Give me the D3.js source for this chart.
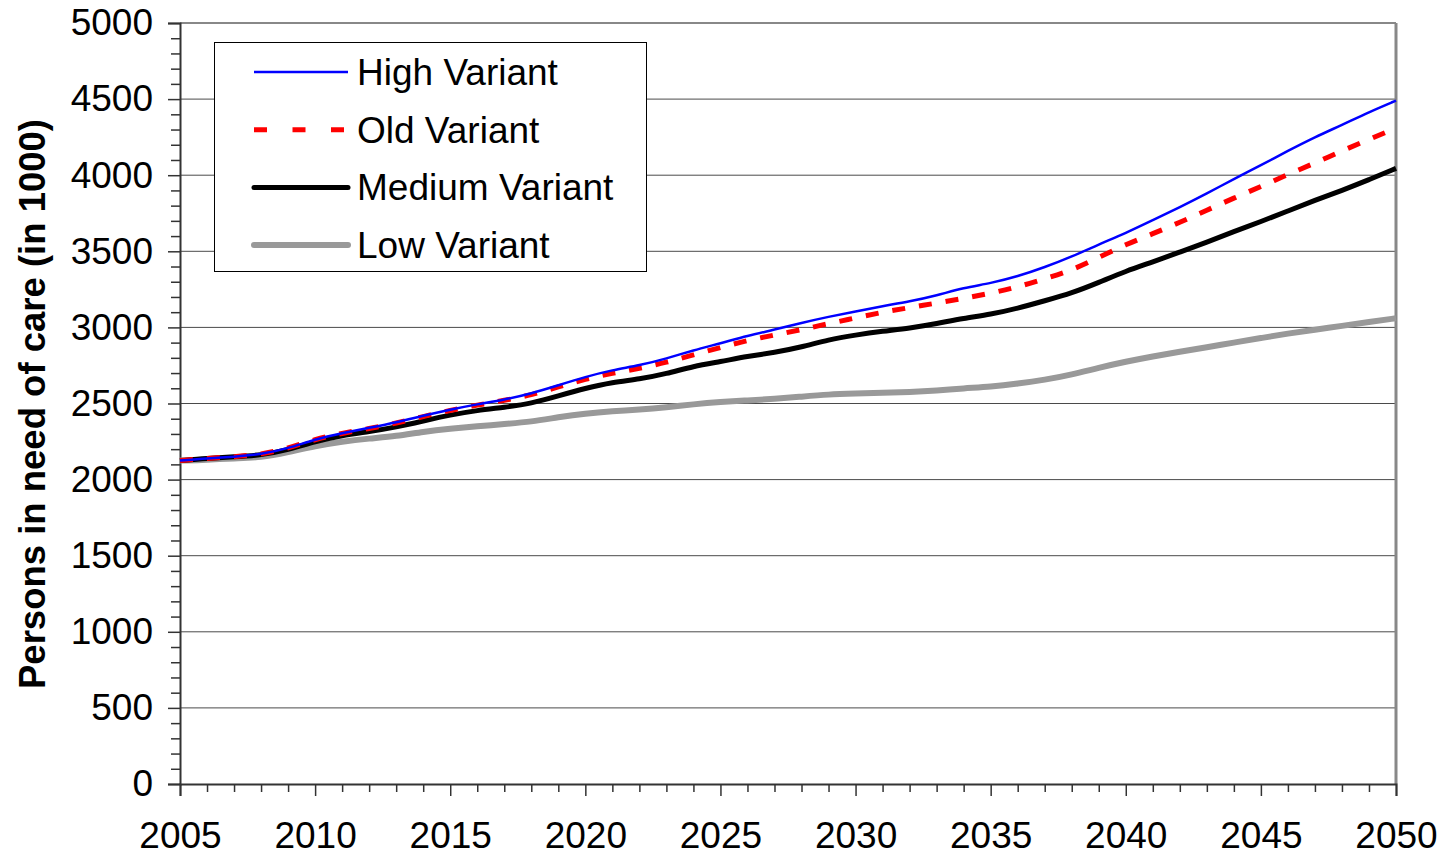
<!DOCTYPE html>
<html>
<head>
<meta charset="utf-8">
<script src="https://cdn.jsdelivr.net/npm/d3@7/dist/d3.min.js"></script>
<style>
  body { margin: 0; background: #fff; }
  svg { display: block; font-family: "Liberation Sans", Arial, sans-serif; }
</style>
</head>
<body>
<div id="chart"></div>
<script>
// Years 2005..2050
const years = d3.range(2005, 2051);

const highVariant = [
    2125, 2140, 2150, 2165, 2205, 2265, 2305, 2340, 2375, 2420,
    2460, 2495, 2525, 2565, 2620, 2675, 2720, 2750, 2795, 2850,
    2895, 2945, 2985, 3030, 3070, 3105, 3140, 3170, 3210, 3260,
    3290, 3335, 3395, 3465, 3545, 3620, 3705, 3790, 3880, 3975,
    4065, 4160, 4250, 4330, 4415, 4490
];
const oldVariant = [
    2125, 2140, 2150, 2165, 2205, 2265, 2305, 2335, 2370, 2415,
    2455, 2490, 2520, 2555, 2610, 2660, 2700, 2730, 2770, 2820,
    2868, 2915, 2950, 2985, 3025, 3062, 3100, 3130, 3160, 3190,
    3225, 3265, 3320, 3375, 3460, 3545, 3615, 3690, 3770, 3850,
    3925, 4005, 4080, 4160, 4235, 4310
];
const mediumVariant = [
    2125, 2140, 2150, 2160, 2195, 2250, 2290, 2315, 2345, 2385,
    2425, 2455, 2475, 2500, 2550, 2600, 2640, 2660, 2695, 2745,
    2775, 2810, 2835, 2870, 2920, 2950, 2975, 2995, 3025, 3060,
    3085, 3125, 3175, 3225, 3295, 3370, 3430, 3495, 3560, 3630,
    3695, 3765, 3835, 3900, 3970, 4045
];
const lowVariant = [
    2125, 2130, 2140, 2145, 2180, 2220, 2250, 2270, 2285, 2315,
    2335, 2350, 2365, 2380, 2410, 2435, 2450, 2460, 2475, 2495,
    2510, 2520, 2530, 2545, 2560, 2565, 2570, 2575, 2585, 2600,
    2610, 2630, 2655, 2690, 2735, 2775, 2810, 2840, 2870, 2900,
    2930, 2960, 2985, 3010, 3035, 3060
];

const yTicks = d3.range(0, 5001, 500);
const xTicks = d3.range(2005, 2051, 5);

const seriesNames = ["High Variant", "Old Variant", "Medium Variant", "Low Variant"];

const width = 1442;
const height = 855;
const margin = { top: 23, right: 46, bottom: 71, left: 180 };

const x = d3.scaleLinear()
    .domain([2005, 2050])
    .range([margin.left, width - margin.right]);
const y = d3.scaleLinear()
    .domain([0, 5000])
    .range([height - margin.bottom, margin.top]);

const svg = d3.select("#chart")
    .append("svg")
    .attr("width", width)
    .attr("height", height);

// Gridlines
svg.append("g")
    .selectAll("line")
    .data(yTicks.filter(d => d > 0 && d < 5000))
    .join("line")
    .attr("x1", x(2005))
    .attr("x2", x(2050))
    .attr("y1", d => y(d))
    .attr("y2", d => y(d))
    .attr("stroke", "#4a4a4a")
    .attr("stroke-width", 1);

// Plot frame (top & right)
svg.append("line")
    .attr("x1", x(2005)).attr("x2", x(2050))
    .attr("y1", y(5000)).attr("y2", y(5000))
    .attr("stroke", "#888").attr("stroke-width", 2);
svg.append("line")
    .attr("x1", x(2050)).attr("x2", x(2050))
    .attr("y1", y(5000)).attr("y2", y(0))
    .attr("stroke", "#888").attr("stroke-width", 3);

// Y axis: major ticks + minor ticks every 100
const yAxis = svg.append("g")
    .attr("transform", `translate(${margin.left},0)`)
    .call(d3.axisLeft(y).tickValues(yTicks).tickSize(12).tickPadding(15).tickFormat(d3.format("d")));
yAxis.select(".domain").attr("stroke", "#333").attr("stroke-width", 2);
yAxis.selectAll(".tick line").attr("stroke", "#333").attr("stroke-width", 1.5);
yAxis.selectAll(".tick text")
    .attr("font-size", 37)
    .attr("fill", "#000")
    .attr("font-family", "Liberation Sans, Arial, sans-serif");

svg.append("g")
    .attr("transform", `translate(${margin.left},0)`)
    .call(d3.axisLeft(y).tickValues(d3.range(0, 5001, 100).filter(d => d % 500 !== 0)).tickSize(9).tickFormat(""))
    .call(g => g.select(".domain").remove())
    .call(g => g.selectAll(".tick line").attr("stroke", "#333").attr("stroke-width", 1.5));

// X axis: major ticks + yearly minor ticks
const xAxis = svg.append("g")
    .attr("transform", `translate(0,${y(0)})`)
    .call(d3.axisBottom(x).tickValues(xTicks).tickSize(12).tickPadding(26).tickFormat(d3.format("d")));
xAxis.select(".domain").attr("stroke", "#333").attr("stroke-width", 2);
xAxis.selectAll(".tick line").attr("stroke", "#333").attr("stroke-width", 1.5);
xAxis.selectAll(".tick text")
    .attr("font-size", 37)
    .attr("fill", "#000")
    .attr("font-family", "Liberation Sans, Arial, sans-serif");

svg.append("g")
    .attr("transform", `translate(0,${y(0)})`)
    .call(d3.axisBottom(x).tickValues(years.filter(d => d % 5 !== 0)).tickSize(8).tickFormat(""))
    .call(g => g.select(".domain").remove())
    .call(g => g.selectAll(".tick line").attr("stroke", "#333").attr("stroke-width", 1.5));

// Y axis title
svg.append("text")
    .attr("transform", `translate(45,404) rotate(-90)`)
    .attr("text-anchor", "middle")
    .attr("font-size", 36.5)
    .attr("font-weight", "bold")
    .text("Persons in need of care (in 1000)");

// Series lines
const series = [
    { name: seriesNames[3], values: lowVariant, color: "#999999", width: 6, dash: null },
    { name: seriesNames[2], values: mediumVariant, color: "#000000", width: 5, dash: null },
    { name: seriesNames[1], values: oldVariant, color: "#ff0000", width: 5, dash: "13,14" },
    { name: seriesNames[0], values: highVariant, color: "#0000ff", width: 2.5, dash: null }
];

const line = d3.line()
    .x((d, i) => x(years[i]))
    .y(d => y(d))
    .curve(d3.curveBasis);

svg.append("g")
    .selectAll("path")
    .data(series)
    .join("path")
    .attr("d", d => line(d.values))
    .attr("fill", "none")
    .attr("stroke", d => d.color)
    .attr("stroke-width", d => d.width)
    .attr("stroke-dasharray", d => d.dash)
    .attr("stroke-linejoin", "round");

// Legend
const legend = svg.append("g");
legend.append("rect")
    .attr("x", 214.5).attr("y", 42.5)
    .attr("width", 432).attr("height", 229)
    .attr("fill", "#fff")
    .attr("stroke", "#000")
    .attr("stroke-width", 1);

const legendItems = [
    { name: seriesNames[0], color: "#0000ff", width: 2.5, dash: null, cap: "butt" },
    { name: seriesNames[1], color: "#ff0000", width: 5, dash: "13,25.5", cap: "butt" },
    { name: seriesNames[2], color: "#000000", width: 5, dash: null, cap: "round" },
    { name: seriesNames[3], color: "#999999", width: 6, dash: null, cap: "round" }
];

const item = legend.selectAll(".item")
    .data(legendItems)
    .join("g")
    .attr("class", "item")
    .attr("transform", (d, i) => `translate(0,${72 + i * 57.7})`);

item.append("line")
    .attr("x1", 254)
    .attr("x2", 348)
    .attr("stroke", d => d.color)
    .attr("stroke-width", d => d.width)
    .attr("stroke-dasharray", d => d.dash)
    .attr("stroke-linecap", d => d.cap);

item.append("text")
    .attr("x", 357)
    .attr("dy", "0.35em")
    .attr("font-size", 37)
    .text(d => d.name);
</script>
</body>
</html>
